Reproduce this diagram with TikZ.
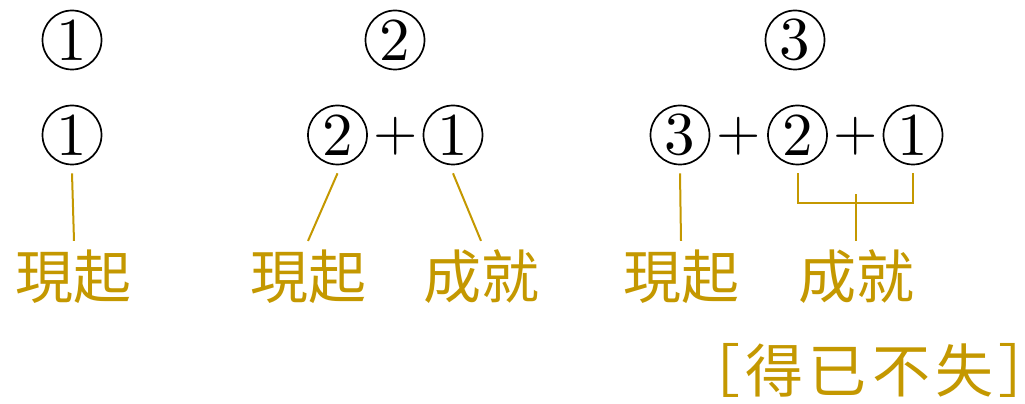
\documentclass[tikz,border=0pt]{standalone}
\usepackage{fontspec}
\newfontfamily\cjk{Noto Sans CJK TC}
\newfontfamily\numfont{lmroman10-regular.otf}
\usepackage{tikz}
\definecolor{gold}{RGB}{196,152,0}
\tikzstyle{num}=[circle,draw,line width=1.7pt,minimum size=59pt,inner sep=0pt,font=\numfont\fontsize{61}{61}\selectfont]
\tikzstyle{sign}=[inner sep=0pt,font=\numfont\fontsize{57}{57}\selectfont]
\tikzstyle{word}=[inner sep=0pt,text=gold,font=\cjk\fontsize{58}{58}\selectfont]
\tikzstyle{link}=[draw=gold,line width=2pt]
\begin{document}
\begin{tikzpicture}[x=1pt,y=1pt]
        \useasboundingbox (0,0) rectangle (1025,404);
        % top row
        \node[num] (top1) at (72,364) {1};
        \node[num] (top2) at (395,364) {2};
        \node[num] (top3) at (795,364) {3};
        % sums
        \node[num] (a1) at (72,269) {1};
        \node[num] (b2) at (337.5,269) {2};
        \node[sign] (bp) at (395.5,268) {+};
        \node[num] (b1) at (453,269) {1};
        \node[num] (c3) at (680,269) {3};
        \node[sign] (cp1) at (739,268) {+};
        \node[num] (c2) at (797.5,269) {2};
        \node[sign] (cp2) at (855.5,268) {+};
        \node[num] (c1) at (913,269) {1};
        % words
        \node[word] (wa) at (74,127) {現起};
        \node[word] (wb1) at (308,127) {現起};
        \node[word] (wb2) at (481,127) {成就};
        \node[word] (wc1) at (681,127) {現起};
        \node[word] (wc2) at (856,127) {成就};
        \node[word] (wd) at (867,34) {\addfontfeature{LetterSpace=9}\kern-29pt［得已不失］\kern-34pt};
        % links
        \draw[link] ([yshift=-8pt]a1.south) -- ([yshift=9pt]wa.north);
        \draw[link] ([yshift=-8pt]b2.south) -- ([yshift=9pt]wb1.north);
        \draw[link] ([yshift=-8pt]b1.south) -- ([yshift=9pt]wb2.north);
        \draw[link] ([yshift=-8pt]c3.south) -- ([yshift=9pt]wc1.north);
        \draw[link] ([yshift=-8pt]c2.south) -- ++(0,-29.5) coordinate (bl) -| ([yshift=-8pt]c1.south);
        \draw[link] ([yshift=9pt]wc2.north) -- ([yshift=9pt]wc2.north |- bl);
\end{tikzpicture}
\end{document}
